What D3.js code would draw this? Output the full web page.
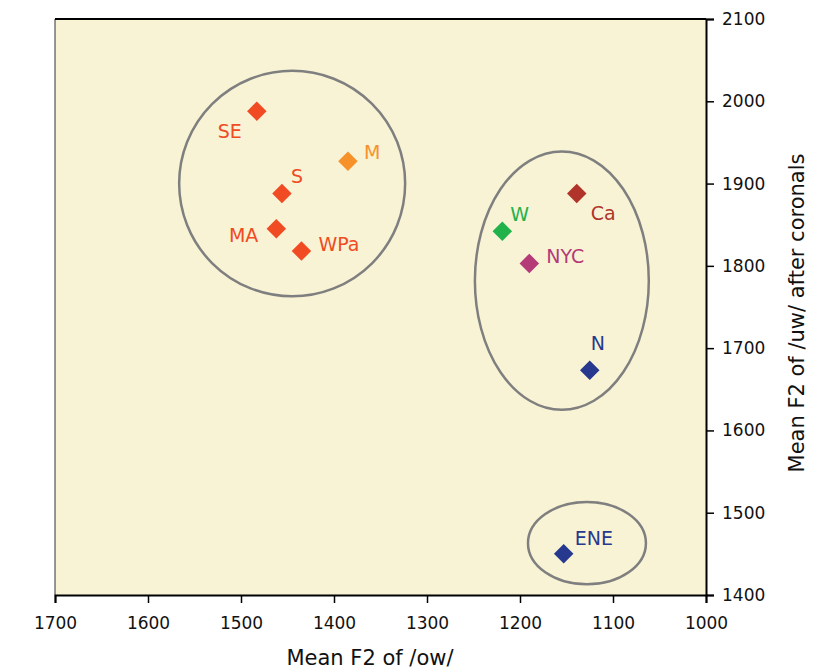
<!DOCTYPE html>
<html><head><meta charset="utf-8">
<script src="https://cdn.jsdelivr.net/npm/d3@7"></script>
<style>
body{margin:0;background:#fff;}
text{font-family:"DejaVu Sans",sans-serif;}
</style></head>
<body><svg id="c" width="817" height="670"></svg>
<script>
const dialects = ["SE","M","S","MA","WPa","Ca","W","NYC","N","ENE"];
const owF2 = [1483,1385,1456,1462,1435,1139,1219,1190,1125,1153];
const uwF2 = [1988,1927,1888,1845,1818,1888,1842,1803,1673,1450];
const colors = ["#f04b23","#f7922b","#f04b23","#f04b23","#f04b23","#b0342a","#22b24c","#b43a78","#27388f","#27388f"];
// cluster ellipses (data units): centre x, centre y, radius x, radius y
const clusterCx = [1445,1155,1128];
const clusterCy = [1900,1782,1463];
const clusterRx = [121.5,93.5,63.4];
const clusterRy = [137,157,50];
const xTicks = [1700,1600,1500,1400,1300,1200,1100,1000];
const yTicks = [1400,1500,1600,1700,1800,1900,2000,2100];

// label placement offsets (px)
const labelOffsets = {SE:[-27,20,"middle"],M:[16,-9,"start"],S:[9,-17,"start"],MA:[-18,6,"end"],WPa:[17,-7,"start"],
  Ca:[14,20,"start"],W:[8,-17,"start"],NYC:[17,-7,"start"],N:[1,-27,"start"],ENE:[11,-16,"start"]};

const L=55,R=706,T=19,B=595;
const svg=d3.select("#c");
const x=d3.scaleLinear().domain([1700,1000]).range([L,R]);
const y=d3.scaleLinear().domain([1400,2100]).range([B,T]);

svg.append("rect").attr("x",L).attr("y",T).attr("width",R-L).attr("height",B-T).attr("fill","#f8f3d5");
svg.append("line").attr("x1",L).attr("x2",L).attr("y1",T).attr("y2",B).attr("stroke","#333").attr("stroke-width",1);
svg.append("line").attr("x1",L).attr("x2",R).attr("y1",T).attr("y2",T).attr("stroke","#000").attr("stroke-width",2);

const xa=svg.append("g").attr("transform",`translate(0,${B})`)
  .call(d3.axisBottom(x).tickValues(xTicks).tickSize(8).tickPadding(14).tickFormat(d3.format("d")));
const ya=svg.append("g").attr("transform",`translate(${R},0)`)
  .call(d3.axisRight(y).tickValues(yTicks).tickSize(8).tickPadding(8).tickFormat(d3.format("d")));
[xa,ya].forEach(g=>{
  g.select(".domain").attr("stroke","#000").attr("stroke-width",2);
  g.selectAll(".tick line").attr("stroke","#000").attr("stroke-width",1.5);
  g.selectAll(".tick text").attr("fill","#111").style("font-size","17px").style("font-family","'DejaVu Sans',sans-serif");
});

svg.append("g").selectAll("ellipse").data(clusterCx).join("ellipse")
  .attr("cx",(d,i)=>x(clusterCx[i])).attr("cy",(d,i)=>y(clusterCy[i]))
  .attr("rx",(d,i)=>Math.abs(x(clusterCx[i]+clusterRx[i])-x(clusterCx[i])))
  .attr("ry",(d,i)=>Math.abs(y(clusterCy[i]+clusterRy[i])-y(clusterCy[i])))
  .attr("fill","none").attr("stroke","#7f7f7f").attr("stroke-width",2.5);

const pts=dialects.map((d,i)=>({name:d,xv:owF2[i],yv:uwF2[i],c:colors[i]}));
const sym=d3.symbol().type(d3.symbolSquare).size(190);
svg.append("g").selectAll("path").data(pts).join("path")
  .attr("d",sym()).attr("fill",d=>d.c)
  .attr("transform",d=>`translate(${x(d.xv)},${y(d.yv)}) rotate(45)`);
svg.append("g").selectAll("text").data(pts).join("text")
  .attr("x",d=>x(d.xv)+labelOffsets[d.name][0]).attr("y",d=>y(d.yv)+labelOffsets[d.name][1])
  .attr("text-anchor",d=>labelOffsets[d.name][2]).attr("dominant-baseline","central")
  .attr("fill",d=>d.c).style("font-size","19px").text(d=>d.name);

svg.append("text").attr("x",370).attr("y",665).attr("text-anchor","middle")
  .style("font-size","21px").attr("fill","#111").text("Mean F2 of /ow/");
svg.append("text").attr("transform",`translate(804,313) rotate(-90)`).attr("text-anchor","middle")
  .style("font-size","21px").attr("fill","#111").text("Mean F2 of  /uw/ after coronals");
</script></body></html>
